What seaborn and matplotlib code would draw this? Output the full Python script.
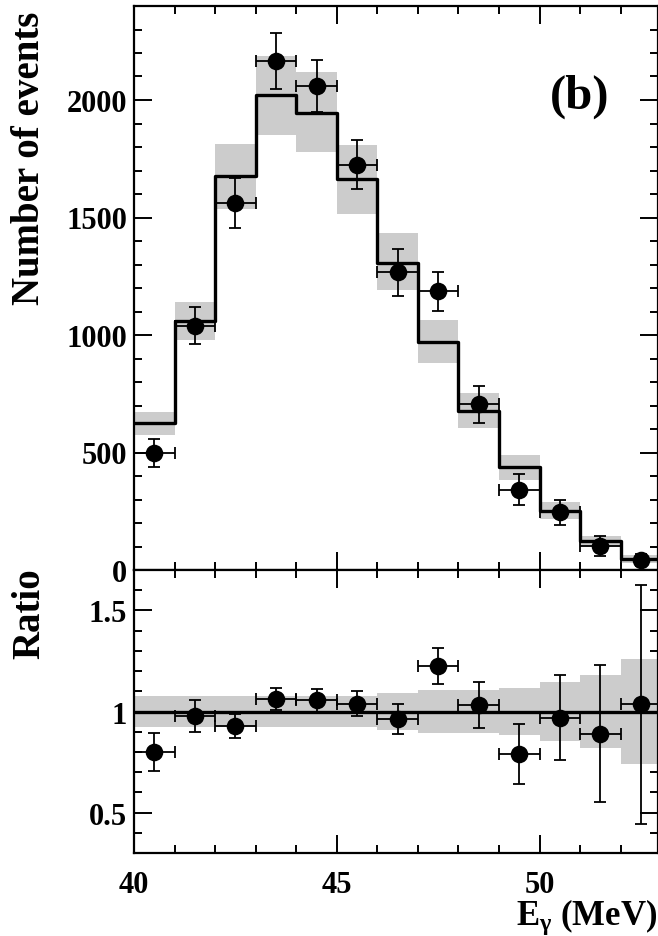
import numpy as np
import pandas as pd
import matplotlib
matplotlib.use("Agg")
import matplotlib.pyplot as plt
import seaborn as sns

# ---------------- data ----------------
bin_edges = [40, 41, 42, 43, 44, 45, 46, 47, 48, 49, 50, 51, 52, 53]
bin_centers = [40.5, 41.5, 42.5, 43.5, 44.5, 45.5, 46.5, 47.5, 48.5, 49.5, 50.5, 51.5, 52.5]

mc_counts = [625, 1060, 1678, 2020, 1946, 1662, 1306, 971, 678, 437, 252, 125, 47]
mc_band_lo = [574, 980, 1536, 1852, 1780, 1515, 1191, 879, 604, 384, 217, 98, 30]
mc_band_hi = [673, 1139, 1814, 2188, 2118, 1809, 1433, 1065, 752, 491, 288, 146, 64]

data_counts = [498, 1040, 1562, 2165, 2061, 1725, 1267, 1187, 705, 342, 245, 103, 43]
data_err = [60, 80, 105, 118, 110, 103, 100, 83, 78, 65, 55, 43, 25]

ratio_vals = [0.80, 0.977, 0.927, 1.063, 1.056, 1.038, 0.965, 1.224, 1.03, 0.79, 0.969, 0.891, 1.035]
ratio_err = [0.095, 0.078, 0.06, 0.055, 0.057, 0.062, 0.074, 0.089, 0.114, 0.15, 0.21, 0.34, 0.59]
ratio_band = [0.078, 0.078, 0.076, 0.076, 0.076, 0.076, 0.093, 0.105, 0.105, 0.115, 0.146, 0.183, 0.26]

yticks_top = [0, 500, 1000, 1500, 2000]
yticks_ratio = [0.5, 1, 1.5]
yticklabels_ratio = ["0.5", "1", "1.5"]
xticks = [40, 45, 50]

# ---------------- style ----------------
sns.set_theme(style="ticks")
plt.rcParams["font.family"] = ["Liberation Serif", "DejaVu Serif"]
plt.rcParams["font.weight"] = "bold"
plt.rcParams["text.color"] = "black"
plt.rcParams["axes.labelcolor"] = "black"
plt.rcParams["xtick.color"] = "black"
plt.rcParams["ytick.color"] = "black"
plt.rcParams["mathtext.fontset"] = "custom"
plt.rcParams["mathtext.rm"] = "Liberation Serif:bold"
plt.rcParams["mathtext.it"] = "Liberation Serif:bold"
plt.rcParams["mathtext.bf"] = "Liberation Serif:bold"

W, H = 658, 937
fig = plt.figure(figsize=(W / 100, H / 100), dpi=100)
left = 134 / W
right = 658 / W
ax1 = fig.add_axes([left, 1 - 571 / H, right - left, (571 - 7) / H])
ax2 = fig.add_axes([left, 1 - 854 / H, right - left, (854 - 571) / H])

df = pd.DataFrame({"x": bin_centers, "mc": mc_counts, "data": data_counts,
                   "err": data_err, "ratio": ratio_vals, "rerr": ratio_err})

band_color = "#cccccc"
widths = np.diff(bin_edges)

# ---- top panel ----
ax1.bar(bin_edges[:-1], np.array(mc_band_hi) - np.array(mc_band_lo), width=widths,
        bottom=mc_band_lo, align="edge", color=band_color, linewidth=0, zorder=1)
sns.histplot(data=df, x="x", weights="mc", bins=bin_edges, element="step", fill=False,
             color="black", linewidth=2.4, ax=ax1, zorder=2)
ax1.errorbar(df["x"], df["data"], yerr=df["err"], xerr=0.5, fmt="none",
             ecolor="black", elinewidth=1.3, capsize=4, capthick=1.3, zorder=3)
sns.scatterplot(data=df, x="x", y="data", color="black", s=160, edgecolor="black",
                linewidth=0, ax=ax1, zorder=4)

ax1.set_xlim(40, 52.92)
ax1.set_ylim(0, 2400)
ax1.set_yticks(yticks_top)
ax1.set_yticks(np.arange(0, 2401, 100), minor=True)
ax1.set_xticks(xticks)
ax1.set_xticks(np.arange(40, 53, 1), minor=True)
ax1.set_xticklabels([])
ax1.set_xlabel("")
ax1.set_ylabel("")

# ---- ratio panel ----
ax2.bar(bin_edges[:-1], 2 * np.array(ratio_band), width=widths,
        bottom=1 - np.array(ratio_band), align="edge", color=band_color, linewidth=0, zorder=1)
ax2.axhline(1, color="black", linewidth=2.4, zorder=2)
ax2.errorbar(df["x"], df["ratio"], yerr=df["rerr"], xerr=0.5, fmt="none",
             ecolor="black", elinewidth=1.3, capsize=4, capthick=1.3, zorder=3)
sns.scatterplot(data=df, x="x", y="ratio", color="black", s=160, edgecolor="black",
                linewidth=0, ax=ax2, zorder=4)
ax2.set_xlim(40, 52.92)
ax2.set_ylim(0.3, 1.7)
ax2.set_yticks(yticks_ratio)
ax2.set_yticklabels(yticklabels_ratio)
ax2.set_yticks(np.arange(0.3, 1.71, 0.1), minor=True)
ax2.set_xticks(xticks)
ax2.set_xticks(np.arange(40, 53, 1), minor=True)
ax2.set_xlabel("")
ax2.set_ylabel("")

for ax in (ax1, ax2):
    for s in ax.spines.values():
        s.set_visible(True)
        s.set_linewidth(1.6)
        s.set_color("black")
    ax.tick_params(which="both", direction="in", top=True, right=True,
                   color="black", width=1.4, labelsize=22, labelcolor="black")
    ax.tick_params(which="major", length=13)
    ax.tick_params(which="minor", length=6)
    ax.tick_params(axis="y", pad=5)
    ax.tick_params(axis="x", pad=12)
    for lab in ax.get_xticklabels() + ax.get_yticklabels():
        lab.set_fontweight("bold")
        lab.set_color("black")

fig.text(580 / W, 1 - 97 / H, "(b)", fontsize=35, fontweight="bold",
         ha="center", va="center", color="black")
fig.text(30 / W, 1 - 158 / H, "Number of events", rotation=90, fontsize=28,
         fontweight="bold", ha="center", va="center", color="black")
fig.text(30 / W, 1 - 614 / H, "Ratio", rotation=90, fontsize=28,
         fontweight="bold", ha="center", va="center", color="black")
fig.text(657 / W, 1 - 925 / H, r"E$_{\gamma}$ (MeV)", fontsize=25,
         fontweight="bold", ha="right", va="baseline", color="black")

fig.savefig("out.png", dpi=100)
